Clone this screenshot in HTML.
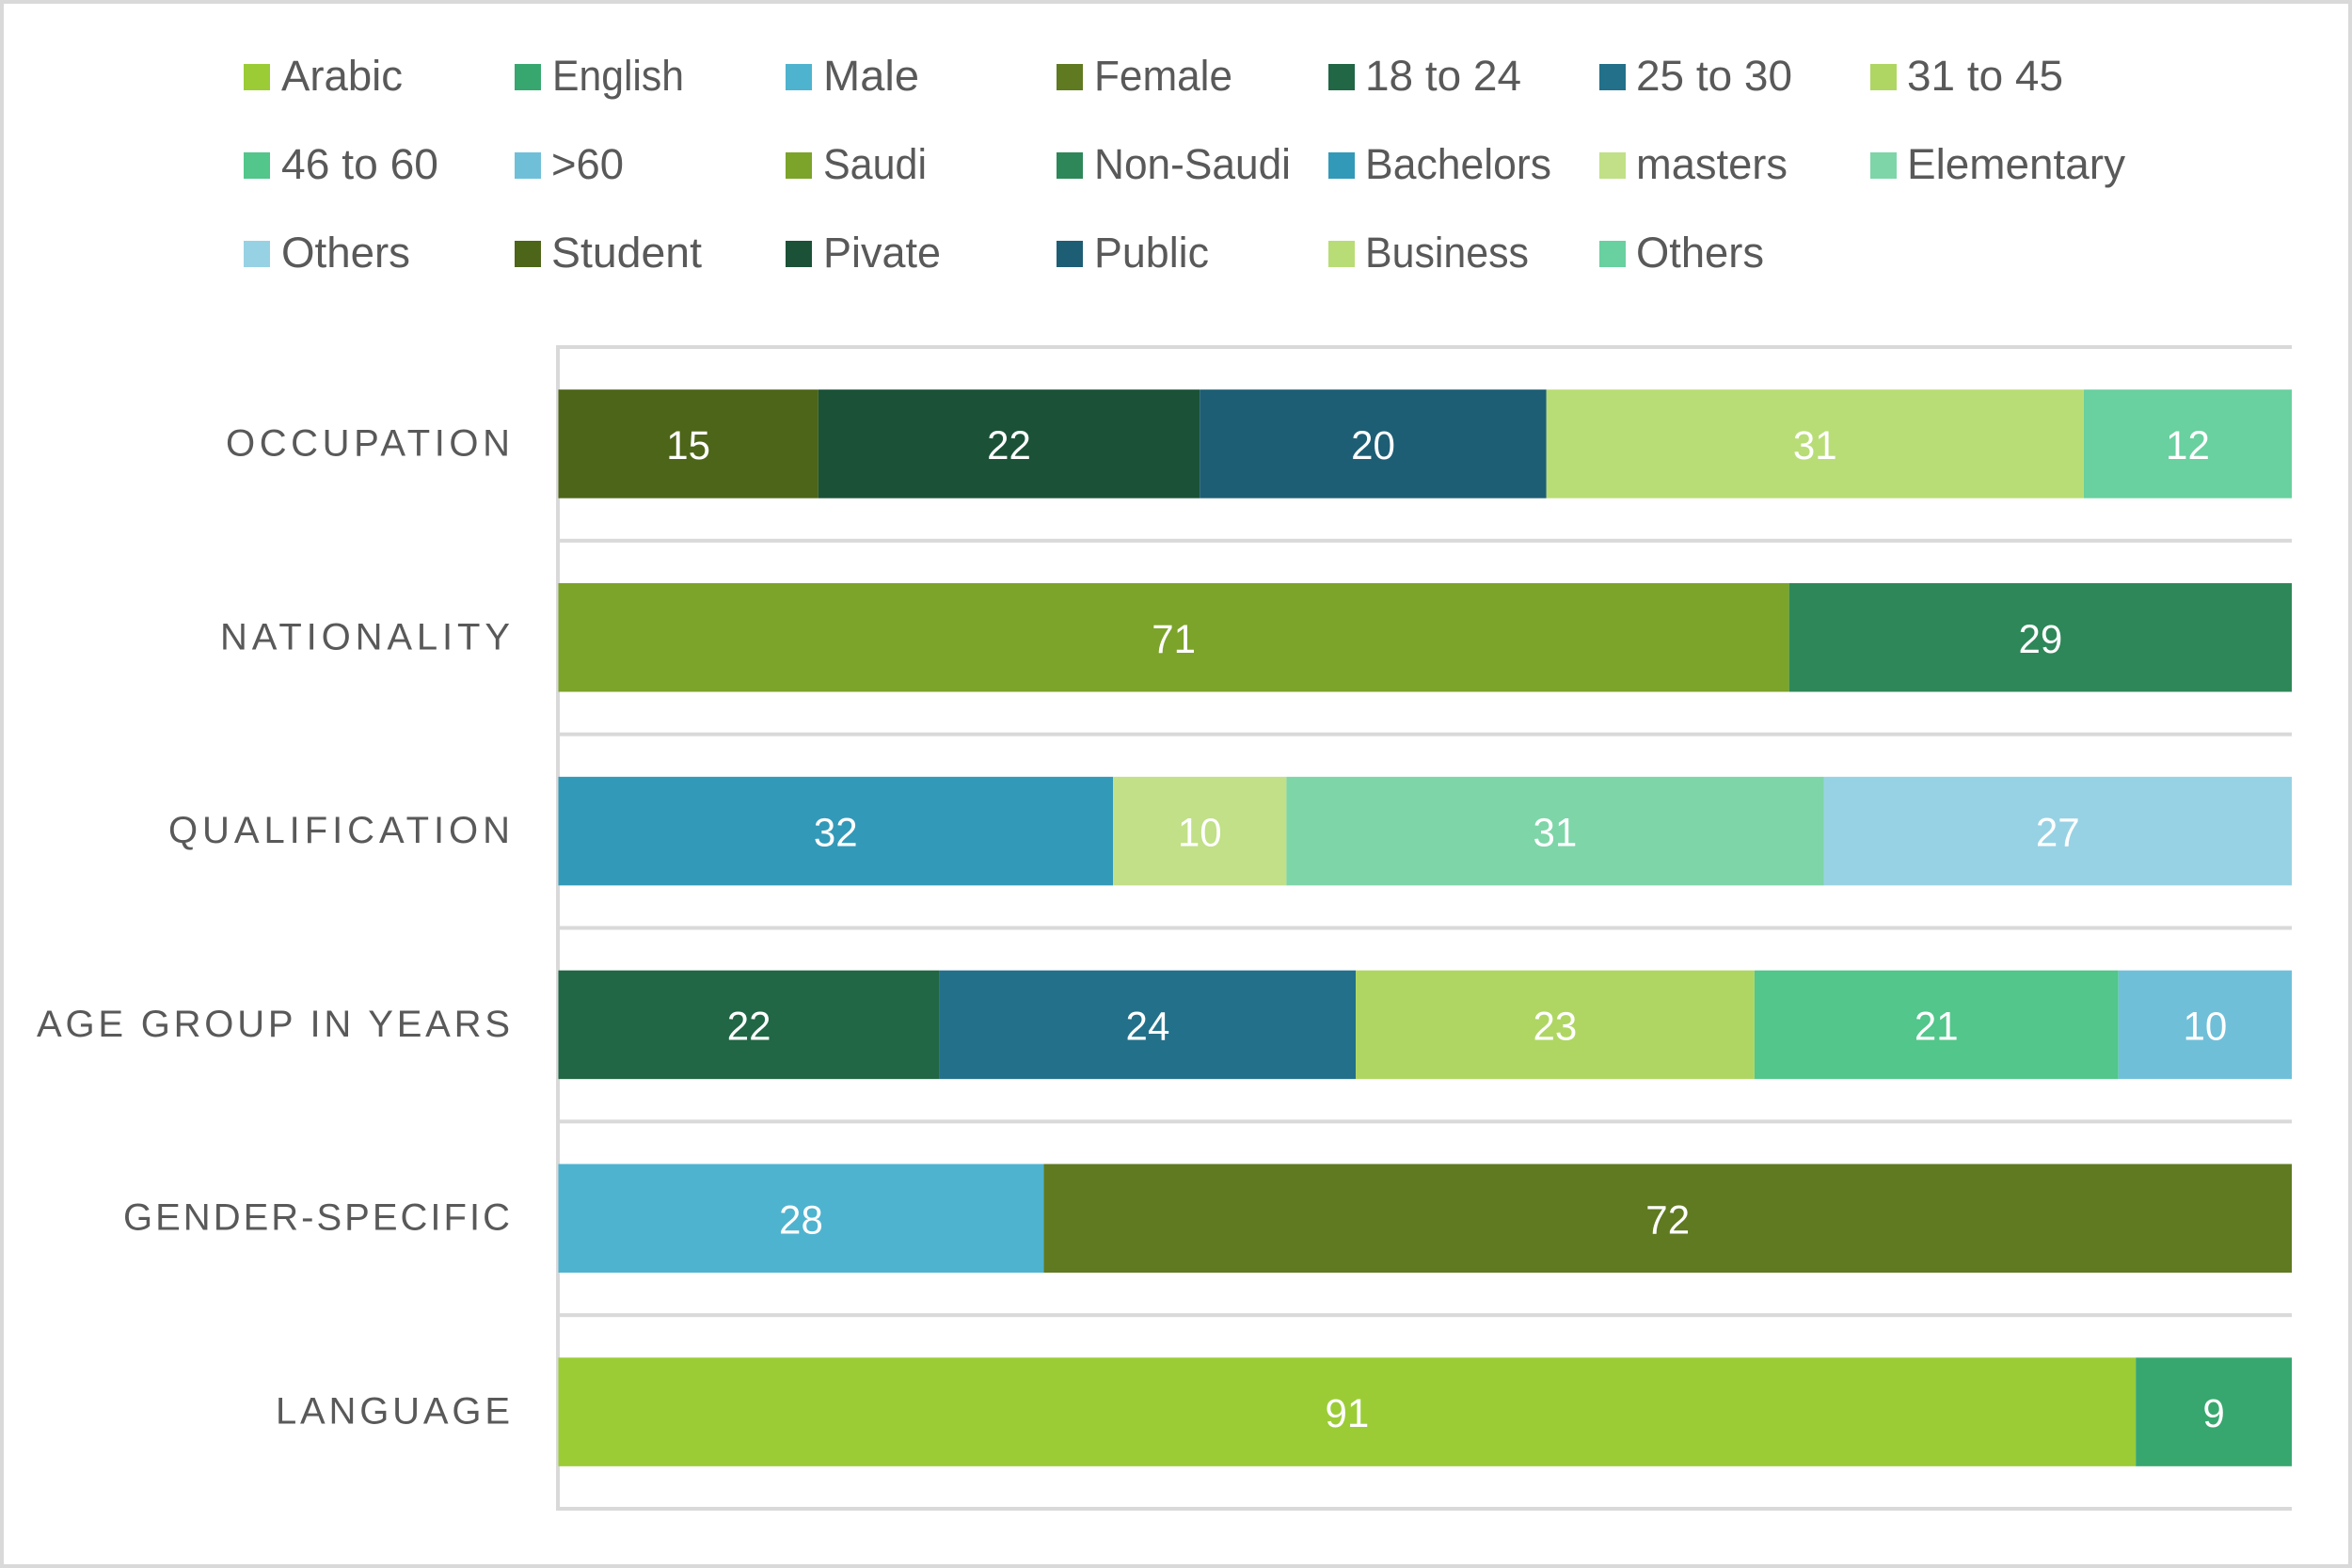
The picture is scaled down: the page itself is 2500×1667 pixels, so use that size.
<!DOCTYPE html>
<html lang="en">
<head>
<meta charset="utf-8">
<title>Respondent demographics stacked bar chart</title>
<style>
html,body{margin:0;padding:0;background:#fff;}
svg{display:block;}
text{font-family:"Liberation Sans",sans-serif;}
.lg{font-size:45px;fill:#595959;}
.cat{font-size:40px;fill:#595959;}
.val{font-size:43px;fill:#fff;text-anchor:middle;}
</style>
</head>
<body>
<svg id="chart" xmlns="http://www.w3.org/2000/svg" width="2500" height="1667" viewBox="0 0 2500 1667">
<rect x="2" y="2" width="2496" height="1663" fill="#fff" stroke="#d9d9d9" stroke-width="4"/>
<g id="grid"></g>
<g id="bars"></g>
<g>
<text class="cat" x="240" y="484.5" textLength="302" lengthAdjust="spacing">OCCUPATION</text>
<text class="cat" x="234" y="690.3" textLength="308" lengthAdjust="spacing">NATIONALITY</text>
<text class="cat" x="179" y="896.1" textLength="363" lengthAdjust="spacing">QUALIFICATION</text>
<text class="cat" x="39" y="1101.9" textLength="503" lengthAdjust="spacing">AGE GROUP IN YEARS</text>
<text class="cat" x="131" y="1307.7" textLength="411" lengthAdjust="spacing">GENDER-SPECIFIC</text>
<text class="cat" x="293" y="1513.5" textLength="249" lengthAdjust="spacing">LANGUAGE</text>
</g>
<g>
<rect x="259" y="68" width="28" height="28" fill="#9bcc36"/>
<text class="lg" x="299" y="96" textLength="129" lengthAdjust="spacingAndGlyphs">Arabic</text>
<rect x="547" y="68" width="28" height="28" fill="#37a76f"/>
<text class="lg" x="587" y="96" textLength="140" lengthAdjust="spacingAndGlyphs">English</text>
<rect x="835" y="68" width="28" height="28" fill="#4eb3cf"/>
<text class="lg" x="875" y="96" textLength="102" lengthAdjust="spacingAndGlyphs">Male</text>
<rect x="1123" y="68" width="28" height="28" fill="#5f7a20"/>
<text class="lg" x="1163" y="96" textLength="147" lengthAdjust="spacingAndGlyphs">Female</text>
<rect x="1412" y="68" width="28" height="28" fill="#216645"/>
<text class="lg" x="1451" y="96" textLength="166" lengthAdjust="spacingAndGlyphs">18 to 24</text>
<rect x="1700" y="68" width="28" height="28" fill="#23708a"/>
<text class="lg" x="1739" y="96" textLength="166" lengthAdjust="spacingAndGlyphs">25 to 30</text>
<rect x="1988" y="68" width="28" height="28" fill="#afd662"/>
<text class="lg" x="2027" y="96" textLength="166" lengthAdjust="spacingAndGlyphs">31 to 45</text>

<rect x="259" y="162" width="28" height="28" fill="#52c68b"/>
<text class="lg" x="299" y="190" textLength="167" lengthAdjust="spacingAndGlyphs">46 to 60</text>
<rect x="547" y="162" width="28" height="28" fill="#70bfd9"/>
<text class="lg" x="586" y="190" textLength="77" lengthAdjust="spacingAndGlyphs">&gt;60</text>
<rect x="835" y="162" width="28" height="28" fill="#7ca32a"/>
<text class="lg" x="875" y="190" textLength="110" lengthAdjust="spacingAndGlyphs">Saudi</text>
<rect x="1123" y="162" width="28" height="28" fill="#2e8758"/>
<text class="lg" x="1163" y="190" textLength="209" lengthAdjust="spacingAndGlyphs">Non-Saudi</text>
<rect x="1412" y="162" width="28" height="28" fill="#3399b8"/>
<text class="lg" x="1451" y="190" textLength="198" lengthAdjust="spacingAndGlyphs">Bachelors</text>
<rect x="1700" y="162" width="28" height="28" fill="#c1e087"/>
<text class="lg" x="1739" y="190" textLength="161" lengthAdjust="spacingAndGlyphs">masters</text>
<rect x="1988" y="162" width="28" height="28" fill="#7ed5a8"/>
<text class="lg" x="2027" y="190" textLength="232" lengthAdjust="spacingAndGlyphs">Elementary</text>

<rect x="259" y="256" width="28" height="28" fill="#97d2e4"/>
<text class="lg" x="299" y="284" textLength="137" lengthAdjust="spacingAndGlyphs">Others</text>
<rect x="547" y="256" width="28" height="28" fill="#4d6518"/>
<text class="lg" x="586" y="284" textLength="160" lengthAdjust="spacingAndGlyphs">Student</text>
<rect x="835" y="256" width="28" height="28" fill="#1b5237"/>
<text class="lg" x="875" y="284" textLength="125" lengthAdjust="spacingAndGlyphs">Pivate</text>
<rect x="1123" y="256" width="28" height="28" fill="#1e5e74"/>
<text class="lg" x="1163" y="284" textLength="122" lengthAdjust="spacingAndGlyphs">Public</text>
<rect x="1412" y="256" width="28" height="28" fill="#b9dd76"/>
<text class="lg" x="1451" y="284" textLength="174" lengthAdjust="spacingAndGlyphs">Business</text>
<rect x="1700" y="256" width="28" height="28" fill="#69d09f"/>
<text class="lg" x="1739" y="284" textLength="136" lengthAdjust="spacingAndGlyphs">Others</text>
</g>
</svg>
<script>
// Chart data, top to bottom
const categories = ["Occupation", "Nationality", "Qualification", "Age group", "Gender", "Language"];
const occupationValues = [15, 22, 20, 31, 12];
const nationalityValues = [71, 29];
const qualificationValues = [32, 10, 31, 27];
const ageGroupValues = [22, 24, 23, 21, 10];
const genderValues = [28, 72];
const languageValues = [91, 9];
const occupationColors = ["#4d6518", "#1b5237", "#1e5e74", "#b9dd76", "#69d09f"];
const nationalityColors = ["#7ca32a", "#2e8758"];
const qualificationColors = ["#3399b8", "#c1e087", "#7ed5a8", "#97d2e4"];
const ageGroupColors = ["#216645", "#23708a", "#afd662", "#52c68b", "#70bfd9"];
const genderColors = ["#4eb3cf", "#5f7a20"];
const languageColors = ["#9bcc36", "#37a76f"];

const rowValues = [occupationValues, nationalityValues, qualificationValues, ageGroupValues, genderValues, languageValues];
const rowColors = [occupationColors, nationalityColors, qualificationColors, ageGroupColors, genderColors, languageColors];

const NS = "http://www.w3.org/2000/svg";
const plotLeft = 593.5, plotRight = 2436, plotTop = 369, plotBottom = 1604;
const band = (plotBottom - plotTop) / categories.length;
const barH = 115.5;
const xScale = function (v) { return plotLeft + (v / 100) * (plotRight - plotLeft); };
const yCenter = function (i) { return plotTop + band * (i + 0.5); };

const grid = document.getElementById("grid");
for (let i = 0; i <= categories.length; i++) {
  const line = document.createElementNS(NS, "rect");
  
  
  line.setAttribute("x", 591);
  line.setAttribute("y", plotTop + band * i - 2);
  line.setAttribute("width", plotRight - 591);
  line.setAttribute("height", 4);
  line.setAttribute("fill", "#d9d9d9");
  grid.appendChild(line);
}
const axis = document.createElementNS(NS, "rect");


axis.setAttribute("x", 591);
axis.setAttribute("y", plotTop - 2);
axis.setAttribute("width", 4);
axis.setAttribute("height", plotBottom - plotTop + 4);
axis.setAttribute("fill", "#d9d9d9");
grid.appendChild(axis);

const bars = document.getElementById("bars");
categories.forEach(function (cat, i) {
  let cum = 0;
  rowValues[i].forEach(function (v, j) {
    const x0 = xScale(cum);
    const x1 = xScale(cum + v);
    const rect = document.createElementNS(NS, "rect");
    
    
    rect.setAttribute("x", x0);
    rect.setAttribute("y", yCenter(i) - barH / 2);
    rect.setAttribute("width", x1 - x0);
    rect.setAttribute("height", barH);
    rect.setAttribute("fill", rowColors[i][j]);
    bars.appendChild(rect);
    const label = document.createElementNS(NS, "text");
    
    
    label.setAttribute("class", "val");
    label.setAttribute("x", (x0 + x1) / 2);
    label.setAttribute("y", yCenter(i) + 16);
    label.setAttribute("textLength", String(v).length * 23.4);
    label.setAttribute("lengthAdjust", "spacingAndGlyphs");
    label.textContent = String(v);
    bars.appendChild(label);
    cum += v;
  });
});
</script>
</body>
</html>
